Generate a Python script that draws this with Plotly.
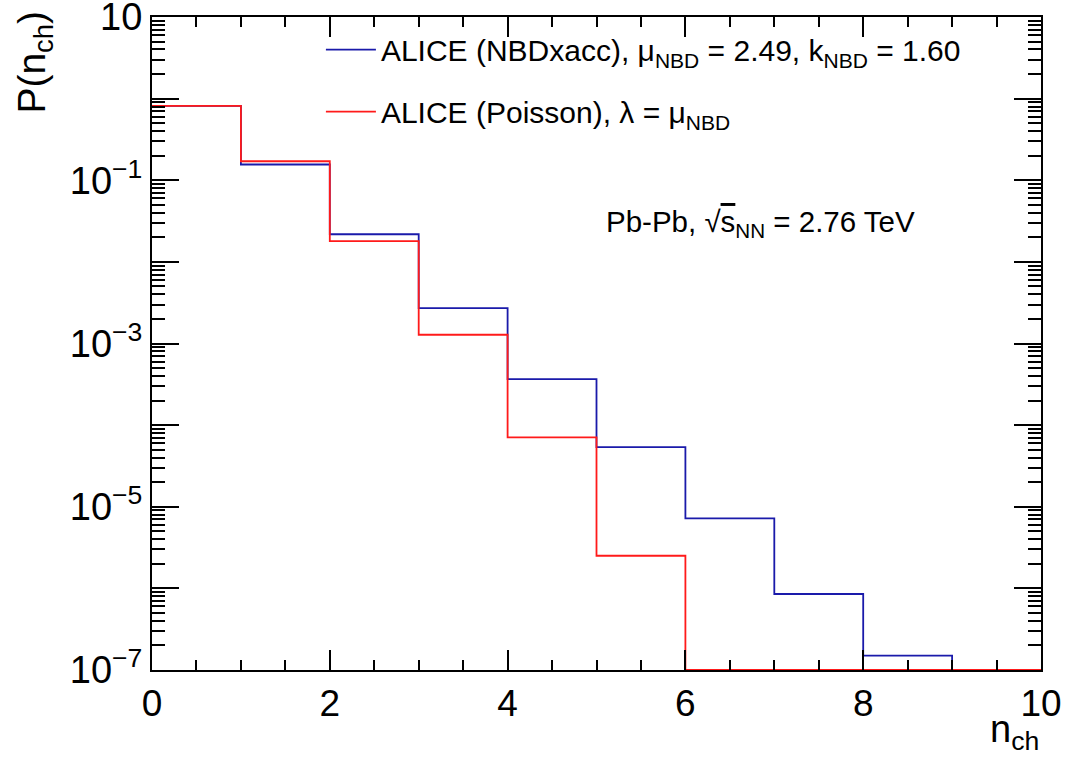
import plotly.graph_objects as go

# Multiplicity bins (n_ch = 0..9) and per-bin probabilities
bin_edges = [0, 1, 2, 3, 4, 5, 6, 7, 8, 9, 10]
p_nbd = [0.813, 0.156, 0.0218, 0.00271, 3.66e-4, 5.38e-5, 7.21e-6, 8.53e-7, 1.50e-7, 0.0]
p_poisson = [0.813, 0.171, 0.0180, 0.00128, 7.08e-5, 2.51e-6, 0.0, 0.0, 0.0, 0.0]

# y-axis decades and which of them carry a label
y_exponents = [1, 0, -1, -2, -3, -4, -5, -6, -7]
labelled_exponents = [1, -1, -3, -5, -7]
x_tick_values = [0, 2, 4, 6, 8, 10]

Y_MIN_EXP, Y_MAX_EXP = -7, 1
FLOOR = 10 ** Y_MIN_EXP

FONT = "Liberation Sans, Arial, Helvetica, sans-serif"
BLUE = "#1a1aaa"
RED = "#ff1a1a"


def step_points(values):
    # empty bins are drawn on the lower frame edge, as a histogram outline would be
    shown = [v if v > 0 else FLOOR for v in values]
    return bin_edges, shown + [shown[-1]]


def exp_label(e):
    if e not in labelled_exponents:
        return ""
    if e == 1:
        return "10"
    return "10<sup>\u2212%d</sup>" % (-e) if e < 0 else "10<sup>%d</sup>" % e


fig = go.Figure()

x_b, y_b = step_points(p_nbd)
fig.add_trace(go.Scatter(
    x=x_b, y=y_b, mode="lines", line=dict(color=BLUE, width=1.8, shape="hv"),
    name="ALICE (NBDxacc), \u03bc<sub>NBD</sub> = 2.49, k<sub>NBD</sub> = 1.60",
    legendgroup="nbd",
))
x_r, y_r = step_points(p_poisson)
fig.add_trace(go.Scatter(
    x=x_r, y=y_r, mode="lines", line=dict(color=RED, width=1.8, shape="hv"),
    name="ALICE (Poisson), \u03bb = \u03bc<sub>NBD</sub>",
    legendgroup="poisson",
))

minor_y = [m * 10 ** e for e in range(Y_MIN_EXP, Y_MAX_EXP) for m in range(2, 10)]
minor_x = [v / 2 for v in range(0, 21) if v % 4 != 0]

fig.update_xaxes(
    range=[0, 10], showgrid=False, zeroline=False, automargin=False,
    showline=True, linecolor="black", linewidth=2, mirror="ticks",
    ticks="inside", ticklen=20, tickwidth=1.5, tickcolor="black",
    tickmode="array", tickvals=x_tick_values,
    ticktext=[str(v) for v in x_tick_values],
    tickfont=dict(family=FONT, size=37, color="black"),
    ticklabeloverflow="allow",
    minor=dict(tickmode="array", tickvals=minor_x, ticks="inside", ticklen=10,
               tickwidth=1.5, tickcolor="black", showgrid=False),
)
fig.update_yaxes(
    type="log", range=[Y_MIN_EXP, Y_MAX_EXP], showgrid=False, zeroline=False,
    automargin=False,
    showline=True, linecolor="black", linewidth=2, mirror="ticks",
    ticks="inside", ticklen=27, tickwidth=1.5, tickcolor="black",
    tickmode="array", tickvals=[10 ** e for e in y_exponents],
    ticktext=[exp_label(e) for e in y_exponents],
    tickfont=dict(family=FONT, size=38, color="black"),
    ticklabeloverflow="allow",
    minor=dict(tickmode="array", tickvals=minor_y, ticks="inside", ticklen=13,
               tickwidth=1.5, tickcolor="black", showgrid=False),
)

fig.update_layout(
    width=1071, height=766,
    margin=dict(l=152, r=30, t=17, b=96, autoexpand=False),
    paper_bgcolor="white", plot_bgcolor="white",
    font=dict(family=FONT, color="black"),
    showlegend=True,
    legend=dict(
        x=0.19, y=0.99, xanchor="left", yanchor="top",
        bgcolor="rgba(0,0,0,0)", borderwidth=0,
        font=dict(family=FONT, size=30, color="black"),
        tracegroupgap=20, itemwidth=50,
    ),
    annotations=[
        dict(
            text="Pb-Pb, \u221a<span style='text-decoration:overline'>s</span><sub>NN</sub> = 2.76 TeV",
            xref="paper", yref="paper", x=0.508, y=0.684,
            xanchor="left", yanchor="middle", showarrow=False,
            font=dict(family=FONT, size=29.5, color="black"),
        ),
        dict(
            text="P(n<sub>ch</sub>)",
            xref="paper", yref="paper", x=-0.163, y=1.013,
            xanchor="left", yanchor="top", textangle=-90, showarrow=False,
            font=dict(family=FONT, size=39, color="black"),
        ),
        dict(
            text="n<sub>ch</sub>",
            xref="paper", yref="paper", x=1.0, y=-0.055,
            xanchor="right", yanchor="top", showarrow=False,
            font=dict(family=FONT, size=38, color="black"),
        ),
    ],
)

fig.write_html("out.html")
